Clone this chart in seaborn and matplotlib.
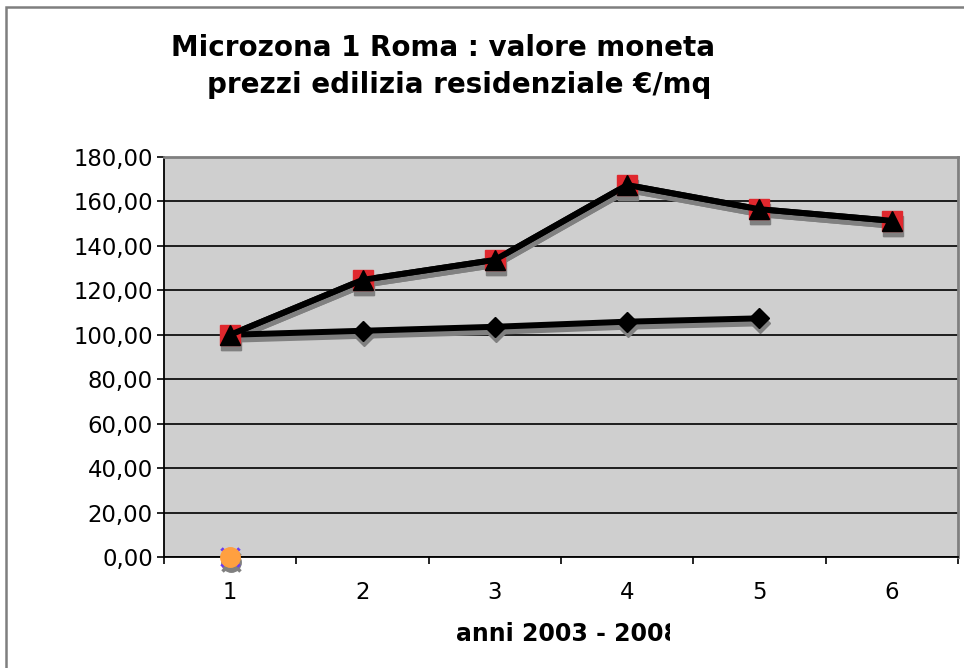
import pandas as pd
import seaborn as sns
import matplotlib
matplotlib.use("Agg")
import matplotlib.pyplot as plt
from matplotlib.patches import Rectangle
from matplotlib.transforms import offset_copy, Bbox

# valori (indice 2003 = 100)
anni = [1, 2, 3, 4, 5, 6]
prezzi_quadrati = [100.0, 124.7, 133.7, 167.4, 156.5, 151.3]
prezzi_triangoli = [100.0, 124.7, 133.7, 167.4, 156.5, 151.3]
anni_moneta = [1, 2, 3, 4, 5]
valore_moneta = [100.0, 101.8, 103.6, 105.9, 107.4]
anni_vuoti = [1]
serie_croce = [0.0]
serie_cerchio = [0.0]

y_ticks = [0, 20, 40, 60, 80, 100, 120, 140, 160, 180]
y_labels = ["0,00", "20,00", "40,00", "60,00", "80,00", "100,00",
            "120,00", "140,00", "160,00", "180,00"]
x_labels = ["1", "2", "3", "4", "5", "6"]

sns.set_style("white")
plt.rcParams['font.family'] = ['DejaVu Sans']
plt.rcParams['text.color'] = 'black'
plt.rcParams['xtick.color'] = 'black'
plt.rcParams['ytick.color'] = 'black'

fig = plt.figure(figsize=(9.64, 6.68), dpi=100)
ax = fig.add_axes([164 / 964, 111 / 668, 794 / 964, 400 / 668])
ax.set_facecolor('#cfcfcf')

# ombra: stessa serie spostata di qualche pixel
ombra = offset_copy(ax.transData, fig=fig, x=1, y=-5, units='dots')


def serie(x, y, marker, ms, face, edge, lw=4.3, mew=1.0, z=3, clip=True):
    df = pd.DataFrame({"x": x, "y": y})
    sns.lineplot(data=df, x="x", y="y", ax=ax, color='#808080', lw=lw,
                 marker=marker, markersize=ms, markerfacecolor='#808080',
                 markeredgecolor='#808080', mew=mew, transform=ombra,
                 zorder=2, errorbar=None, clip_on=clip)
    sns.lineplot(data=df, x="x", y="y", ax=ax, color='black', lw=lw,
                 marker=marker, markersize=ms, markerfacecolor=face,
                 markeredgecolor=edge, mew=mew, zorder=z, errorbar=None,
                 clip_on=clip)


serie(anni_moneta, valore_moneta, 'D', 10.5, 'black', 'black', z=3)
serie(anni, prezzi_quadrati, 's', 15, '#e0282e', '#e0282e', z=4)
serie(anni, prezzi_triangoli, '^', 15, 'black', 'black', z=5)
serie(anni_vuoti, serie_croce, 'x', 13, '#6a3cf0', '#6a3cf0', mew=2.5, z=6,
      clip=False)
serie(anni_vuoti, serie_cerchio, 'o', 14, '#ffa040', '#ffa040', z=7,
      clip=False)

ax.set_xlim(0.5, 6.5)
ax.set_ylim(0, 180)
ax.set_yticks(y_ticks)
ax.set_yticklabels(y_labels)
ax.set_xticks([0.5, 1.5, 2.5, 3.5, 4.5, 5.5, 6.5])
ax.set_xticklabels([])
ax.set_xticks(anni, minor=True)
ax.set_xticklabels(x_labels, minor=True)
ax.tick_params(axis='y', which='major', length=5, width=1.2, color='black',
               direction='out', left=True, labelsize=16.4, pad=3)
ax.tick_params(axis='x', which='major', length=5, width=1.2, color='black',
               direction='out', bottom=True)
ax.tick_params(axis='x', which='minor', length=0, labelsize=16.4, pad=17)
ax.set_xlabel("")
ax.set_ylabel("")

ax.yaxis.grid(True, color='black', lw=1.2)
ax.xaxis.grid(False)
ax.set_axisbelow(True)
for lato in ['left', 'bottom']:
    ax.spines[lato].set_color('black')
    ax.spines[lato].set_linewidth(1.3)
for lato in ['top', 'right']:
    ax.spines[lato].set_color('#808080')
    ax.spines[lato].set_linewidth(2)

# titolo su due righe
fig.text(443 / 964, 1 - 56 / 668, "Microzona 1 Roma : valore moneta",
         ha='center', va='baseline', fontsize=20, fontweight='bold')
fig.text(459 / 964, 1 - 93 / 668, "prezzi edilizia residenziale €/mq",
         ha='center', va='baseline', fontsize=20, fontweight='bold')

# etichetta asse x, tagliata come nell'originale
etichetta = fig.text(456 / 964, 1 - 641 / 668, "anni 2003 - 2008",
                     ha='left', va='baseline', fontsize=17, fontweight='bold')
etichetta.set_clip_box(Bbox.from_extents(0, 0, 670, 668))
etichetta.set_clip_on(True)

# cornice dell'area del grafico
fig.add_artist(Rectangle((6 / 964, -0.05), 1.1, 661 / 668 + 0.05,
                         transform=fig.transFigure, fill=False,
                         ec='#7f7f7f', lw=1.8))

fig.savefig("out.png", dpi=100, facecolor='white')
